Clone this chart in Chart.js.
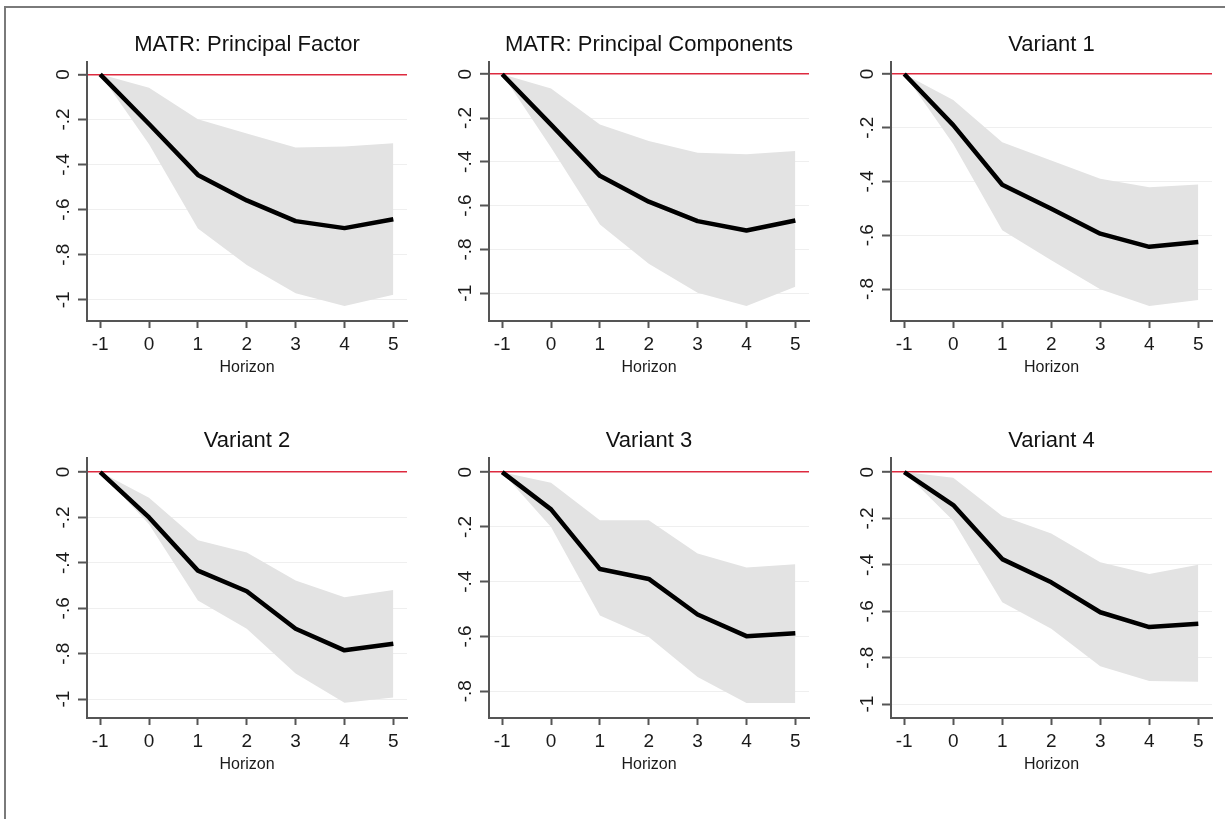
<!DOCTYPE html>
<html>
<head>
<meta charset="utf-8">
<script src="https://cdn.jsdelivr.net/npm/chart.js@4.4.1/dist/chart.umd.min.js"></script>
<style>
  body { margin: 0; background: #fff; width: 1225px; height: 819px; overflow: hidden; position: relative; }
  #frame { position: absolute; left: 4px; top: 6px; right: -4px; bottom: -4px; border-top: 2px solid #7a7a7a; border-left: 2px solid #7a7a7a; }
  canvas { position: absolute; }
</style>
</head>
<body>
<div id="frame"></div>
<canvas id="p1"></canvas>
<canvas id="p2"></canvas>
<canvas id="p3"></canvas>
<canvas id="p4"></canvas>
<canvas id="p5"></canvas>
<canvas id="p6"></canvas>
<script>
// horizons and panel titles
const horizon = [-1, 0, 1, 2, 3, 4, 5];
const titles = ['MATR: Principal Factor', 'MATR: Principal Components', 'Variant 1', 'Variant 2', 'Variant 3', 'Variant 4'];

// y tick values / labels (Stata style)
const yTicksLong = [0, -0.2, -0.4, -0.6, -0.8, -1];
const yLabelsLong = ['0', '-.2', '-.4', '-.6', '-.8', '-1'];
const yTicksShort = [0, -0.2, -0.4, -0.6, -0.8];
const yLabelsShort = ['0', '-.2', '-.4', '-.6', '-.8'];

// impulse responses with confidence band
const irf1 = [0, -0.22, -0.446, -0.559, -0.651, -0.682, -0.643];
const upper1 = [0, -0.059, -0.199, -0.262, -0.324, -0.320, -0.305];
const lower1 = [0, -0.31, -0.684, -0.846, -0.971, -1.027, -0.978];

const irf2 = [0, -0.23, -0.464, -0.582, -0.671, -0.714, -0.668];
const upper2 = [0, -0.065, -0.229, -0.305, -0.358, -0.365, -0.350];
const lower2 = [0, -0.335, -0.686, -0.865, -0.998, -1.059, -0.971];

const irf3 = [0, -0.19, -0.412, -0.501, -0.594, -0.643, -0.625];
const upper3 = [0, -0.097, -0.254, -0.322, -0.390, -0.421, -0.411];
const lower3 = [0, -0.26, -0.581, -0.693, -0.801, -0.863, -0.841];

const irf4 = [0, -0.200, -0.434, -0.525, -0.690, -0.785, -0.756];
const upper4 = [0, -0.113, -0.300, -0.354, -0.478, -0.551, -0.519];
const lower4 = [0, -0.230, -0.566, -0.690, -0.887, -1.016, -0.993];

const irf5 = [0, -0.136, -0.354, -0.390, -0.520, -0.599, -0.588];
const upper5 = [0, -0.039, -0.176, -0.176, -0.297, -0.348, -0.336];
const lower5 = [0, -0.200, -0.524, -0.602, -0.748, -0.843, -0.843];

const irf6 = [0, -0.142, -0.375, -0.475, -0.604, -0.668, -0.654];
const upper6 = [0, -0.024, -0.189, -0.265, -0.389, -0.439, -0.399];
const lower6 = [0, -0.210, -0.561, -0.675, -0.837, -0.900, -0.904];

// axis ranges [min, max]
const yLimits = [[-1.094, 0.054], [-1.127, 0.055], [-0.919, 0.044], [-1.083, 0.061], [-0.898, 0.051], [-1.06, 0.06]];
const xLimits = [-1.27, 5.28];

const panels = [
  { id: 'p1', irf: irf1, lo: lower1, hi: upper1, ticks: yTicksLong, labels: yLabelsLong },
  { id: 'p2', irf: irf2, lo: lower2, hi: upper2, ticks: yTicksLong, labels: yLabelsLong },
  { id: 'p3', irf: irf3, lo: lower3, hi: upper3, ticks: yTicksShort, labels: yLabelsShort },
  { id: 'p4', irf: irf4, lo: lower4, hi: upper4, ticks: yTicksLong, labels: yLabelsLong },
  { id: 'p5', irf: irf5, lo: lower5, hi: upper5, ticks: yTicksShort, labels: yLabelsShort },
  { id: 'p6', irf: irf6, lo: lower6, hi: upper6, ticks: yTicksLong, labels: yLabelsLong },
];

// plot-area boxes on the page: left, top, right, bottom
const boxes = [
  [87, 61, 407, 321], [489, 61, 809, 321], [891, 61, 1212, 321],
  [87, 457, 407, 718], [489, 457, 809, 718], [891, 457, 1212, 718],
];

const AXIS_W = 70, TOP_H = 50, BOT_H = 62, RIGHT_PAD = 6;

Chart.defaults.font.family = "'Liberation Sans', Arial, sans-serif";
Chart.defaults.color = '#1a1a1a';

const pts = arr => arr.map((v, i) => ({ x: horizon[i], y: v }));

panels.forEach((p, k) => {
  const [L, T, R, B] = boxes[k];
  const cv = document.getElementById(p.id);
  const w = R - L + AXIS_W + RIGHT_PAD, h = B - T + TOP_H + BOT_H;
  cv.width = w; cv.height = h;
  cv.style.left = (L - AXIS_W) + 'px';
  cv.style.top = (T - TOP_H) + 'px';
  cv.style.width = w + 'px'; cv.style.height = h + 'px';

  new Chart(cv, {
    type: 'line',
    data: {
      datasets: [
        { data: pts(p.lo), borderWidth: 0, pointRadius: 0, fill: false, order: 2 },
        { data: pts(p.hi), borderWidth: 0, pointRadius: 0, fill: '-1', backgroundColor: '#e3e3e3', order: 1 },
        { data: pts(p.irf), borderColor: '#000', borderWidth: 4.5, pointRadius: 0, fill: false, borderJoinStyle: 'round', order: 0 },
      ],
    },
    options: {
      responsive: false,
      animation: false,
      layout: { padding: { right: RIGHT_PAD } },
      elements: { line: { tension: 0 } },
      plugins: {
        legend: { display: false },
        tooltip: { enabled: false },
        title: {
          display: true,
          text: titles[k],
          fullSize: false,
          color: '#111',
          font: { size: 22, weight: 'normal' },
          padding: { top: 20.4, bottom: 4.4 },
        },
      },
      scales: {
        x: {
          type: 'linear',
          min: xLimits[0], max: xLimits[1],
          afterBuildTicks: s => { s.ticks = horizon.map(v => ({ value: v })); },
          afterFit: s => { s.height = BOT_H; },
          ticks: { callback: v => String(v), font: { size: 19 }, padding: 5.5, color: '#1a1a1a' },
          grid: { drawOnChartArea: false, drawTicks: true, tickLength: 7, tickColor: '#555', tickWidth: 2 },
          border: { color: '#555', width: 2 },
          title: { display: true, text: 'Horizon', font: { size: 16 }, padding: { top: 0, bottom: 5.4 }, color: '#1a1a1a' },
        },
        y: {
          type: 'linear',
          min: yLimits[k][0], max: yLimits[k][1],
          afterBuildTicks: s => { s.ticks = p.ticks.map(v => ({ value: v })); },
          afterFit: s => { s.width = AXIS_W; },
          ticks: {
            callback: v => p.labels[p.ticks.indexOf(v)],
            minRotation: 90, maxRotation: 90,
            crossAlign: 'center',
            padding: 3,
            font: { size: 19 },
            color: '#1a1a1a',
          },
          grid: {
            color: c => (c.tick && c.tick.value === 0 ? '#dd2a3f' : '#efefef'),
            lineWidth: c => (c.tick && c.tick.value === 0 ? 1.6 : 1),
            tickLength: 9, tickColor: '#555', tickWidth: 2,
          },
          border: { color: '#555', width: 2 },
        },
      },
    },
  });
});
</script>
</body>
</html>
